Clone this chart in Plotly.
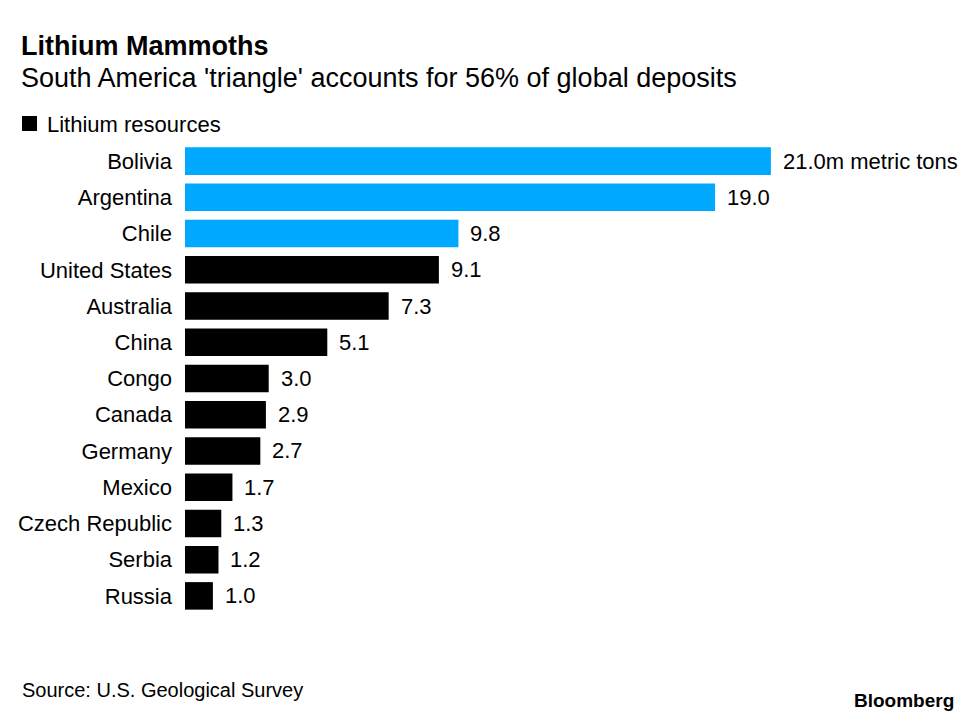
import plotly.graph_objects as go

# Lithium resources, million metric tons (U.S. Geological Survey)
countries = [
    "Bolivia", "Argentina", "Chile", "United States", "Australia", "China",
    "Congo", "Canada", "Germany", "Mexico", "Czech Republic", "Serbia", "Russia",
]
resources = [21.0, 19.0, 9.8, 9.1, 7.3, 5.1, 3.0, 2.9, 2.7, 1.7, 1.3, 1.2, 1.0]
triangle = {"Bolivia", "Argentina", "Chile"}

BLUE = "#00a9ff"
FONT = "Liberation Sans, Arial, sans-serif"

# the page adds an 8px body margin, so work in page pixels minus 8
OFF = 8
W, H = 975, 721
M = dict(l=185 - OFF, r=10, t=143 - OFF, b=107 + OFF)


def px_x(x):
    return (x - OFF - M["l"]) / (W - M["l"] - M["r"])


def px_y(y):
    return 1 - (y - OFF - M["t"]) / (H - M["t"] - M["b"])


colors = [BLUE if c in triangle else "#000000" for c in countries]
labels = [f"{v:.1f}" for v in resources]
labels[0] = labels[0] + "m metric tons"

fig = go.Figure(
    go.Bar(
        x=resources,
        y=countries,
        orientation="h",
        marker=dict(color=colors, line=dict(width=0)),
        width=0.76,
        hoverinfo="skip",
    )
)

# value labels just past the end of each bar
for c, v, t in zip(countries, resources, labels):
    fig.add_annotation(x=v, y=c, text=t, xanchor="left", xshift=10,
                       showarrow=False,
                       font=dict(family=FONT, size=22, color="#000000"))

fig.update_xaxes(
    range=[0, (W - M["l"] - M["r"]) / 27.9],
    visible=False,
    showgrid=False,
    zeroline=False,
)
fig.update_yaxes(
    autorange="reversed",
    showgrid=False,
    zeroline=False,
    showline=False,
    ticks="",
    ticklabelstandoff=12,
    tickfont=dict(family=FONT, size=22, color="#000000"),
)

annotations = [
    dict(text="<b>Lithium Mammoths</b>", x=px_x(19), y=px_y(46),
         font=dict(size=27)),
    dict(text="South America 'triangle' accounts for 56% of global deposits",
         x=px_x(19), y=px_y(78), font=dict(size=27)),
    dict(text="Lithium resources", x=px_x(45), y=px_y(124), font=dict(size=22)),
    dict(text="Source: U.S. Geological Survey", x=px_x(20), y=px_y(690),
         font=dict(size=20)),
    dict(text="<b>Bloomberg</b>", x=px_x(956), y=px_y(700), xanchor="right",
         font=dict(size=19)),
]
for a in annotations:
    a.setdefault("xanchor", "left")
    a["font"]["family"] = FONT
    a["font"]["color"] = "#000000"
    fig.add_annotation(xref="paper", yref="paper", yanchor="middle",
                       showarrow=False, **a)

# legend swatch
fig.add_shape(type="rect", xref="paper", yref="paper",
              x0=px_x(22), x1=px_x(37), y0=px_y(131), y1=px_y(116),
              fillcolor="#000000", line=dict(width=0))

fig.update_layout(
    width=W,
    height=H,
    margin=M,
    plot_bgcolor="white",
    paper_bgcolor="white",
    showlegend=False,
    font=dict(family=FONT, color="#000000"),
)

fig.write_html("out.html")
